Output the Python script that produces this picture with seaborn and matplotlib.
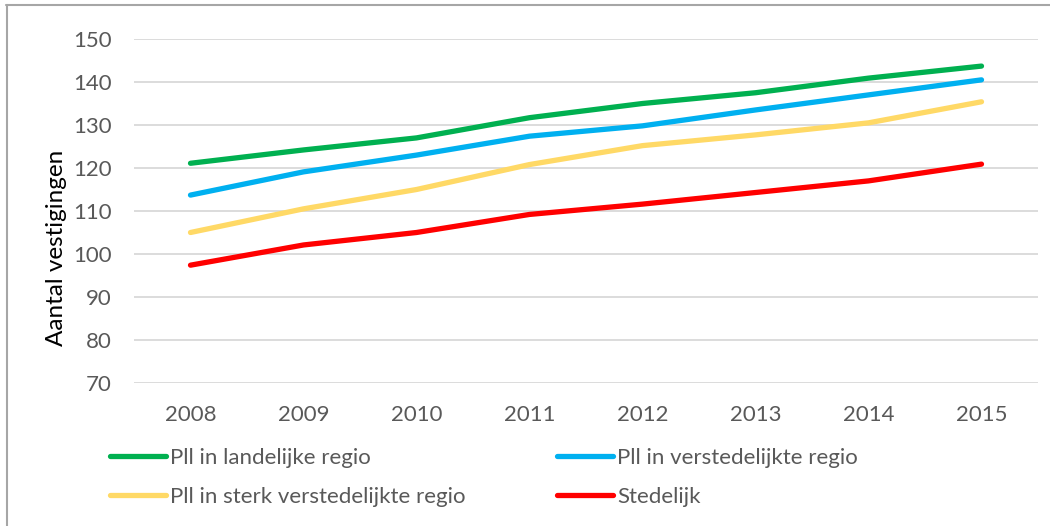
import pandas as pd
import seaborn as sns
import matplotlib.pyplot as plt
from matplotlib.lines import Line2D

# Data
years = [2008, 2009, 2010, 2011, 2012, 2013, 2014, 2015]
landelijk = [121.1, 124.2, 127.0, 131.7, 135.0, 137.5, 140.9, 143.7]
verstedelijkt = [113.7, 119.1, 123.0, 127.4, 129.8, 133.5, 137.0, 140.5]
sterk_verstedelijkt = [105.0, 110.5, 115.0, 120.8, 125.2, 127.7, 130.5, 135.4]
stedelijk = [97.4, 102.1, 105.0, 109.2, 111.6, 114.3, 117.0, 120.9]

series_names = [
    "Pll in landelijke regio",
    "Pll in verstedelijkte regio",
    "Pll in sterk verstedelijkte regio",
    "Stedelijk",
]
series_values = [landelijk, verstedelijkt, sterk_verstedelijkt, stedelijk]
colors = ["#00B050", "#00B0F0", "#FFD966", "#FF0000"]
y_ticks = [70, 80, 90, 100, 110, 120, 130, 140, 150]

df = pd.DataFrame(
    [(y, name, v) for name, vals in zip(series_names, series_values)
     for y, v in zip(years, vals)],
    columns=["jaar", "reeks", "aantal"],
)

sns.set_theme(style="white")
plt.rcParams["font.family"] = ["Lato", "DejaVu Sans"]
text_grey = "#595959"

fig = plt.figure(figsize=(10.5, 5.26), dpi=100)
ax = fig.add_axes([134 / 1050, 1 - 383 / 526, 904 / 1050, 344 / 526])

sns.lineplot(data=df, x="jaar", y="aantal", hue="reeks", hue_order=series_names,
             palette=colors, linewidth=3.8, ax=ax, legend=False,
             solid_capstyle="round")

ax.set_xlim(years[0] - 0.5, years[-1] + 0.5)
ax.set_ylim(70, 150)
ax.set_xticks(years)
ax.set_xticklabels([str(y) for y in years])
ax.set_yticks(y_ticks)
ax.yaxis.grid(True, color="#D9D9D9", linewidth=1.3)
ax.set_axisbelow(True)
for s in ax.spines.values():
    s.set_visible(False)
ax.tick_params(axis="x", length=0, pad=16, labelsize=16, labelcolor=text_grey)
ax.tick_params(axis="y", length=0, pad=16, labelsize=16, labelcolor=text_grey)
ax.set_xlabel("")
ax.set_ylabel("Aantal vestigingen", fontsize=17.5, color="black")
ax.yaxis.set_label_coords(-0.074, 0.392)

# legend in two columns, row-first like the original
handles = [Line2D([0], [0], color=c, linewidth=3.8, solid_capstyle="round") for c in colors]
leg_kw = dict(frameon=False, fontsize=16, labelcolor=text_grey, handlelength=2.5,
              handletextpad=0.2, labelspacing=0.85, borderaxespad=0, borderpad=0,
              loc="upper left")
leg1 = fig.legend([handles[0], handles[2]], [series_names[0], series_names[2]],
                  bbox_to_anchor=(110 / 1050, 1 - 448 / 526), **leg_kw)
leg2 = fig.legend([handles[1], handles[3]], [series_names[1], series_names[3]],
                  bbox_to_anchor=(557 / 1050, 1 - 448 / 526), **leg_kw)

# chart frame (top and left edge visible in the crop)
frame_col = "#A6A6A6"
fig.add_artist(Line2D([6 / 1050, 1.0], [1 - 4.5 / 526, 1 - 4.5 / 526], color=frame_col, linewidth=1.5))
fig.add_artist(Line2D([6.5 / 1050, 6.5 / 1050], [0, 1 - 4.5 / 526], color=frame_col, linewidth=1.5))

fig.savefig("out.png", dpi=100)
